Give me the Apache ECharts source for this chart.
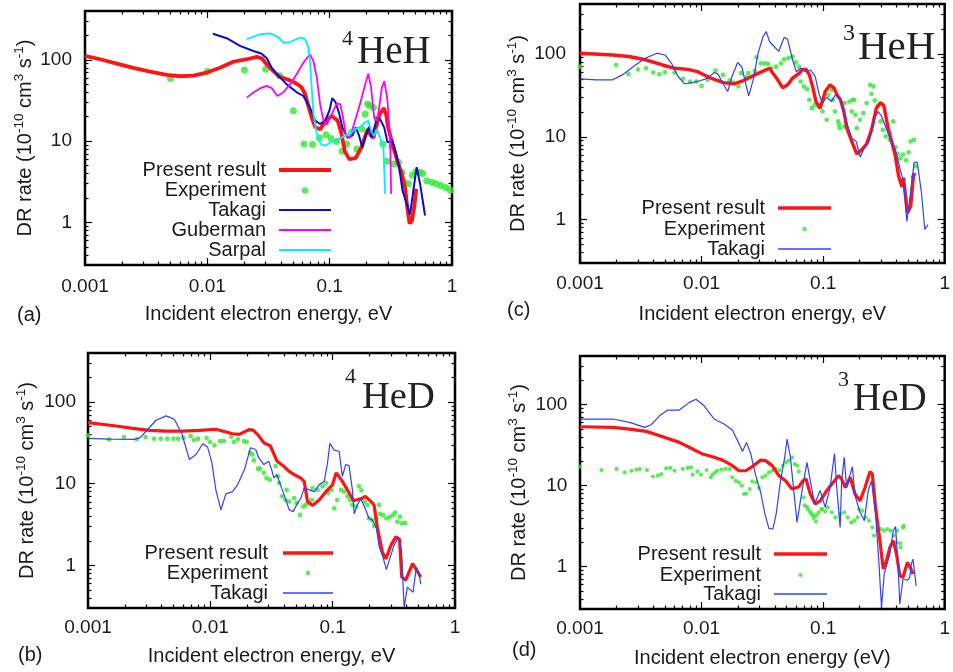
<!DOCTYPE html>
<html><head><meta charset="utf-8">
<script src="https://cdn.jsdelivr.net/npm/echarts@6/dist/echarts.min.js"></script>
<style>html,body{margin:0;padding:0;background:#fff}#c{width:953px;height:672px}</style>
</head><body><div id="c"></div><script>
const FONT = 'Liberation Sans, Arial, Helvetica, sans-serif';
const SERIF = 'Liberation Serif, Times New Roman, serif';
const RED = '#ff1414', GREEN = '#2fe82f', MAGENTA = '#ff00ff', CYAN = '#00eeff';
const BLUE_DARK = '#0c0cd0', BLUE = '#3040ff';

// tick values and labels
const xTickValues = [0.001, 0.01, 0.1, 1];
const xTickLabels = ['0.001', '0.01', '0.1', '1'];
const yTickValues = [1, 10, 100];
const yTickLabels = ['1', '10', '100'];
const xRange = [0.001, 1];
const yRange = [0.3, 400];
const legendNames = ['Present result', 'Experiment', 'Takagi', 'Guberman', 'Sarpal'];

// ---- panel (a) 4HeH ----
const heH4Present = [[0.001,112],[0.00133,102],[0.00182,90],[0.00248,80],[0.0034,72],[0.00466,65.5],[0.006,63],[0.0077,64],[0.0099,70],[0.0127,80],[0.0163,95],[0.021,102],[0.0254,109],[0.028,104],[0.0306,88],[0.0347,73],[0.039,62],[0.0474,56],[0.0538,51],[0.059,46],[0.063,38],[0.067,27],[0.071,20],[0.076,15],[0.0835,14],[0.092,17.5],[0.104,20.5],[0.116,18],[0.124,13],[0.133,7.5],[0.145,6],[0.163,6.2],[0.182,8.4],[0.196,11.7],[0.205,14.1],[0.215,12],[0.228,11],[0.243,16],[0.258,22],[0.278,25.5],[0.29,21],[0.3,15],[0.326,9.2],[0.357,5.75],[0.392,3.8],[0.414,2.6],[0.432,1.5],[0.45,0.97],[0.47,1.05],[0.49,1.5],[0.51,2.6]];
const heH4Exp = [[0.005,59],[0.01,72],[0.0201,75],[0.030,77],[0.039,64],[0.0505,23.7],[0.0617,9.25],[0.0724,9.1],[0.0825,11],[0.0935,12],[0.1026,10.8],[0.114,9.95],[0.126,7.5],[0.138,9.25],[0.151,12.8],[0.167,8.0],[0.183,14.1],[0.195,21.6],[0.204,28.6],[0.214,27.3],[0.228,26],[0.243,18.7],[0.272,9.25],[0.293,5.65],[0.322,8.6],[0.336,5.25],[0.365,5.5],[0.389,4.15],[0.406,3.13],[0.44,3.0],[0.474,3.8],[0.506,4.2],[0.542,4.15],[0.576,4.0],[0.622,3.27],[0.684,3.13],[0.741,3.0],[0.81,2.85],[0.89,2.7],[0.965,2.5]];
const heH4Takagi = [[0.0111,210],[0.0144,185],[0.0185,149],[0.0238,129],[0.0278,119],[0.0306,105],[0.0336,80],[0.0369,67],[0.0446,50],[0.0538,40],[0.061,36],[0.069,26],[0.076,17.9],[0.0835,16.3],[0.0917,17.9],[0.0995,23.7],[0.105,33.9],[0.112,30],[0.119,22.5],[0.127,14.8],[0.14,11],[0.153,11.7],[0.163,14.8],[0.174,11.7],[0.185,8.4],[0.197,11.7],[0.21,15.1],[0.22,11.1],[0.245,19.6],[0.261,18.2],[0.279,14.8],[0.297,9.7],[0.326,10.1],[0.347,7.3],[0.37,4.8],[0.394,2.47],[0.427,1.7],[0.454,1.25],[0.483,2.47],[0.514,4.8],[0.548,3.0],[0.602,1.22]];
const heH4Guberman = [[0.021,34.4],[0.0238,39.7],[0.0278,45.7],[0.0306,48],[0.0336,45],[0.0374,36],[0.0418,40],[0.0474,50],[0.0538,67],[0.061,92.7],[0.069,117],[0.0736,97],[0.0785,60.7],[0.0835,28.6],[0.089,17.9],[0.0947,16],[0.104,21.6],[0.114,29.1],[0.122,28.6],[0.128,20.5],[0.136,11.7],[0.147,11],[0.161,17.9],[0.177,28.6],[0.195,50],[0.207,68],[0.218,45.7],[0.231,19.6],[0.245,17.9],[0.267,45.7],[0.28,55],[0.296,33],[0.312,11.1],[0.318,2.25]];
const heH4Sarpal = [[0.021,180],[0.027,207],[0.0326,212],[0.038,191],[0.0418,163],[0.0474,166],[0.0555,185],[0.059,188],[0.063,180],[0.067,142],[0.069,97],[0.0713,45.7],[0.0736,21.6],[0.0785,12.3],[0.0846,9.25],[0.0917,8.8],[0.102,9.7],[0.114,10.4],[0.129,11.3],[0.147,12.3],[0.161,14.1],[0.177,15],[0.195,17],[0.207,17.9],[0.22,12.8],[0.231,11.7],[0.243,14.1],[0.258,11.1],[0.275,8.4],[0.284,2.25]];

// ---- panel (c) 3HeH ----
const heH3Present = [[0.001,102],[0.00186,97],[0.00253,93],[0.00345,85],[0.0047,74],[0.006,67],[0.0077,65],[0.0093,61],[0.0119,51],[0.0152,45],[0.0184,43.5],[0.0221,47.7],[0.0283,57],[0.0362,67],[0.0385,59],[0.0423,48.7],[0.0465,39],[0.051,42.4],[0.056,51],[0.0633,58],[0.068,65],[0.0725,65],[0.077,55.8],[0.082,40],[0.0873,26.6],[0.0946,22.1],[0.104,35.2],[0.114,42.4],[0.123,38.6],[0.13,32],[0.139,27.9],[0.148,20.2],[0.157,12.7],[0.172,8.8],[0.189,6.2],[0.208,7.0],[0.228,8.2],[0.25,12.1],[0.274,22.1],[0.297,26],[0.316,23.6],[0.34,13.3],[0.369,8.4],[0.393,5.8],[0.418,3.33],[0.445,2.5],[0.458,3.2],[0.494,1.2],[0.525,1.45],[0.552,3.33],[0.569,3.66]];
const heH3Exp = [[0.001,70],[0.00198,73.6],[0.0025,57.4],[0.003,65],[0.00349,67],[0.004,59.6],[0.0045,57],[0.005,60],[0.006,59.6],[0.00703,50],[0.00805,46.3],[0.00906,46.3],[0.01,41],[0.0112,48.7],[0.013,63],[0.015,55.8],[0.017,47.8],[0.0181,45],[0.0201,41],[0.0211,58.5],[0.0235,52.4],[0.0243,58.5],[0.0274,62.4],[0.0283,91],[0.0307,77],[0.033,77],[0.0352,75.8],[0.0374,67],[0.041,70],[0.045,77],[0.0478,86],[0.0519,88.7],[0.056,92.7],[0.0595,78.7],[0.0633,70],[0.0653,46.3],[0.0694,40.4],[0.074,37.5],[0.077,27.9],[0.081,22.1],[0.085,24.3],[0.0917,23.2],[0.0988,20.2],[0.107,16],[0.11,32],[0.117,36.8],[0.12,27.9],[0.125,20.2],[0.133,15.3],[0.135,14],[0.137,12.7],[0.15,13.3],[0.15,25.5],[0.165,26.6],[0.175,27.9],[0.172,20.2],[0.18,27.9],[0.184,18.4],[0.189,12.7],[0.201,16],[0.214,19.3],[0.228,25.5],[0.243,42.4],[0.259,40.4],[0.25,33],[0.266,27.4],[0.283,23.6],[0.297,15.3],[0.31,12.1],[0.327,10.1],[0.353,9.2],[0.376,15.3],[0.393,7.5],[0.41,6.2],[0.431,5.5],[0.453,6.1],[0.482,5.2],[0.504,6.5],[0.525,8.8],[0.56,9.2],[0.546,3.27],[0.577,4.4]];
const heH3Takagi = [[0.001,50],[0.00136,48.7],[0.00186,48.7],[0.00223,55.8],[0.00286,73.6],[0.00345,88.7],[0.00428,102],[0.005,97],[0.00566,77],[0.0064,53.4],[0.00725,43.6],[0.00846,45],[0.00987,47.8],[0.0112,51],[0.0127,59.6],[0.0136,57.4],[0.0152,42.4],[0.0164,35.2],[0.0178,53.4],[0.0198,78.7],[0.0214,70],[0.0231,43.6],[0.0244,31.2],[0.0266,48.7],[0.0292,102],[0.032,161],[0.034,186],[0.0362,141],[0.0397,122],[0.0431,107],[0.0478,159],[0.051,150],[0.056,85],[0.0603,61],[0.0653,67],[0.0716,61],[0.0786,64],[0.081,65],[0.086,53.4],[0.0929,32],[0.0988,25.5],[0.107,30],[0.117,26.6],[0.126,32],[0.137,30],[0.148,19.6],[0.158,14],[0.172,9.6],[0.187,8.8],[0.202,5.7],[0.218,7.3],[0.239,8.8],[0.262,16.3],[0.283,20.2],[0.301,17.9],[0.327,13.1],[0.358,9.2],[0.393,7.0],[0.431,4.0],[0.458,2.9],[0.488,0.955],[0.519,1.9],[0.56,4.9],[0.595,4.9],[0.644,2.1],[0.686,0.76],[0.729,0.87]];

// ---- panel (b) 4HeD ----
const heD4Present = [[0.001,56],[0.0017,51],[0.00232,47.7],[0.00318,45],[0.00435,44.2],[0.0059,44.2],[0.00813,45],[0.0111,46.5],[0.0152,41],[0.0172,40.3],[0.0207,46],[0.0224,45.5],[0.0243,40.3],[0.0274,31.8],[0.031,29],[0.035,19],[0.0398,16.4],[0.0441,14.2],[0.05,12.6],[0.055,11.7],[0.0585,10.7],[0.0623,6.05],[0.0684,5.4],[0.0776,6.3],[0.088,8.0],[0.0996,9.7],[0.107,13.6],[0.12,10.7],[0.132,8.4],[0.148,6.2],[0.16,6.4],[0.175,6.65],[0.185,7.0],[0.2,6.3],[0.218,5.5],[0.232,2.9],[0.255,1.45],[0.272,1.2],[0.3,1.77],[0.328,2.24],[0.352,2.1],[0.367,0.72],[0.395,0.66],[0.45,1.05],[0.48,0.9],[0.525,0.72]];
const heD4Exp = [[0.001,39.2],[0.00149,34.9],[0.00197,37.3],[0.0025,34.9],[0.00296,37.3],[0.00347,35.6],[0.00393,35.6],[0.00446,35.6],[0.00499,35.6],[0.00545,35.6],[0.00602,36.6],[0.0069,38.4],[0.00736,34.3],[0.00794,35.6],[0.00933,36.3],[0.00995,32.4],[0.0108,29.5],[0.012,33.3],[0.0129,33.3],[0.0148,37.7],[0.0156,32.4],[0.0168,34.9],[0.0188,33.3],[0.0198,32.4],[0.0211,23.9],[0.022,22.8],[0.0227,19.4],[0.0245,15.3],[0.0255,15.3],[0.0274,13.6],[0.0288,11.7],[0.0307,11.2],[0.0341,16.4],[0.0357,12.3],[0.0366,10.2],[0.0387,7.0],[0.0412,6.3],[0.042,8.4],[0.0441,6.05],[0.0485,6.65],[0.0507,5.8],[0.054,4.14],[0.0574,5.25],[0.0604,5.5],[0.0643,5.8],[0.0676,6.3],[0.0684,8.85],[0.0751,8.4],[0.0826,9.3],[0.088,10.2],[0.0918,7.7],[0.0977,8.4],[0.103,5.0],[0.109,6.3],[0.117,8.4],[0.124,8.0],[0.132,7.0],[0.139,6.3],[0.145,5.5],[0.156,5.25],[0.164,9.3],[0.172,8.3],[0.183,6.05],[0.192,5.5],[0.198,3.77],[0.211,3.55],[0.218,3.03],[0.228,3.77],[0.24,5.5],[0.243,4.27],[0.258,4.14],[0.275,3.77],[0.293,3.9],[0.312,4.14],[0.324,4.43],[0.338,3.43],[0.354,3.94],[0.367,3.27],[0.391,3.3]];
const heD4Takagi = [[0.001,36],[0.0015,35.3],[0.0024,34.9],[0.00267,36.7],[0.003,44.3],[0.0036,60],[0.00435,67.8],[0.00508,61.7],[0.00587,40.3],[0.00674,19.8],[0.00764,22.8],[0.00866,30.9],[0.0095,28.1],[0.0103,18],[0.0111,8.4],[0.0122,4.77],[0.0134,7.5],[0.0152,8.0],[0.0167,9.7],[0.019,14.9],[0.0213,27.6],[0.0235,26.3],[0.0249,20.7],[0.0274,17.2],[0.030,18.9],[0.032,14.2],[0.033,11.8],[0.035,12.9],[0.0387,8.4],[0.0415,6.3],[0.0441,4.8],[0.0476,4.55],[0.0516,5.8],[0.055,6.65],[0.0585,8.9],[0.0643,8.4],[0.0706,8.0],[0.0776,9.7],[0.0853,10.7],[0.0908,18],[0.0949,31.2],[0.103,25.8],[0.113,25],[0.12,12.3],[0.128,17.2],[0.136,16.7],[0.145,8.4],[0.15,4.27],[0.159,5.5],[0.17,6.5],[0.184,5.0],[0.198,3.77],[0.211,3.6],[0.228,2.84],[0.24,1.68],[0.255,1.33],[0.275,0.885],[0.293,1.21],[0.318,1.77],[0.344,2.2],[0.365,1.53],[0.384,0.305],[0.408,0.54],[0.454,0.468],[0.483,0.95],[0.508,0.79],[0.525,0.59]];

// ---- panel (d) 3HeD ----
const heD3Present = [[0.001,53.5],[0.00187,52.5],[0.00256,50],[0.00351,46.9],[0.0048,40.3],[0.00657,34.3],[0.00844,28.4],[0.0102,24.6],[0.0123,22.8],[0.0149,20.7],[0.0179,17.7],[0.0203,15.3],[0.0231,15.3],[0.0261,17.2],[0.0306,20.7],[0.0336,20.4],[0.0381,17.7],[0.0432,13.3],[0.049,11.5],[0.0555,9.1],[0.063,9.7],[0.0679,11.5],[0.0723,12.1],[0.0784,7.9],[0.0861,5.95],[0.0946,6.5],[0.107,8.7],[0.118,10.5],[0.134,13.3],[0.142,12.1],[0.152,9.5],[0.167,12.7],[0.183,7.9],[0.201,6.5],[0.221,9.5],[0.243,15],[0.254,13.9],[0.27,5.4],[0.293,2.1],[0.312,0.94],[0.332,1.19],[0.354,1.73],[0.377,2.1],[0.401,1.44],[0.427,0.775],[0.454,0.74],[0.493,1.13],[0.521,0.98],[0.548,0.81]];
const heD3Exp = [[0.001,17.2],[0.0015,15.6],[0.002,16.1],[0.00233,14.6],[0.00265,15.3],[0.00291,15.8],[0.0031,16.1],[0.00356,15.6],[0.00398,13.0],[0.00437,13.3],[0.00466,13.9],[0.00512,16.4],[0.00552,16.6],[0.00598,15.3],[0.007,16.1],[0.00769,16.6],[0.00818,16.8],[0.00844,13.7],[0.00927,15.0],[0.00988,13.7],[0.011,15.6],[0.0119,12.7],[0.0123,13.7],[0.0129,14.6],[0.0135,15.3],[0.0146,15.8],[0.0158,16.1],[0.0171,16.1],[0.0179,12.7],[0.0191,11.5],[0.0203,11],[0.0214,10],[0.0223,7.9],[0.0233,8.0],[0.0249,9.1],[0.0261,11.3],[0.0282,11],[0.0296,9.4],[0.0316,12.7],[0.0336,13.3],[0.0358,14.6],[0.0381,15.3],[0.0406,16.1],[0.0438,15.6],[0.0466,17.7],[0.0496,19.4],[0.0521,20.4],[0.0555,22.4],[0.0584,18.5],[0.0614,17.7],[0.063,15],[0.069,7.2],[0.0705,5.7],[0.0736,5.5],[0.075,5.15],[0.078,4.8],[0.08,4.48],[0.083,4.3],[0.0836,4.0],[0.0872,3.63],[0.088,4.3],[0.0917,4.68],[0.0976,5.15],[0.097,5.15],[0.104,4.82],[0.109,5.4],[0.118,4.7],[0.126,4.07],[0.138,4.48],[0.149,4.68],[0.159,4.07],[0.17,3.52],[0.181,3.7],[0.192,4.07],[0.197,5.15],[0.21,4.9],[0.223,4.07],[0.238,3.7],[0.254,3.05],[0.262,2.42],[0.279,2.78],[0.297,2.92],[0.316,2.78],[0.337,2.92],[0.358,2.78],[0.381,2.42],[0.401,2.0],[0.406,2.78],[0.431,1.94],[0.434,1.73],[0.454,3.05],[0.46,3.2]];
const heD3Takagi = [[0.001,66.6],[0.00187,66.6],[0.00256,60.5],[0.0034,52.5],[0.00385,56.6],[0.00451,73],[0.00527,86],[0.00657,86],[0.00793,107],[0.009,117],[0.0105,97],[0.0127,66.6],[0.0153,57.8],[0.0179,48.8],[0.0201,34.3],[0.0217,26.5],[0.0234,34.3],[0.0254,24.6],[0.0279,13.3],[0.0306,8.3],[0.0332,4.48],[0.0358,2.97],[0.0386,2.92],[0.0411,4.48],[0.0446,11.5],[0.0483,22.4],[0.0505,37.7],[0.0538,22.4],[0.0573,8.7],[0.061,3.52],[0.065,6.5],[0.0692,11.5],[0.0736,19.4],[0.0784,11.5],[0.085,5.95],[0.0946,8.7],[0.104,5.4],[0.114,9.5],[0.124,25],[0.129,10],[0.138,3.05],[0.142,11.5],[0.149,22.4],[0.156,9.5],[0.167,13.9],[0.174,17.2],[0.183,7.5],[0.201,4.7],[0.218,3.7],[0.235,8.7],[0.25,11.5],[0.27,4.48],[0.288,1.08],[0.302,0.315],[0.318,0.81],[0.354,1.44],[0.377,2.78],[0.394,3.12],[0.413,1.08],[0.427,0.347],[0.454,0.705],[0.493,0.68],[0.515,0.73],[0.531,1.08],[0.548,1.24],[0.583,0.58]];

const L = Math.log10;
const logPts = a => a.map(p => [L(p[0]), L(p[1])]);
function minorTicks(lo, hi) {
  const out = [];
  for (let d = -4; d <= 3; d++) for (let k = 2; k <= 9; k++) {
    const v = k * Math.pow(10, d);
    if (v > lo * 1.001 && v < hi * 0.999) out.push(L(v));
  }
  return out;
}
const xMajor = xTickValues.map(L), xMinor = minorTicks(xRange[0], xRange[1]);
const yMajor = yTickValues.map(L), yMinor = minorTicks(yRange[0], yRange[1]);
const labelOf = (vals, labels) => v => { const i = vals.findIndex(m => Math.abs(m - v) < 1e-6); return i >= 0 ? labels[i] : ''; };

const panels = [
  { tag: '(a)', tagX: 17, tagY: 315, left: 85, top: 11, width: 367, height: 254, xName: 'Incident electron energy, eV',
    xNameGap: 39.5, yNameGap: 47, xLM: 12.5, yLM: 13,
    iso: { sup: '4', supX: 342, supY: 39, supSize: 22, main: 'HeH', mainX: 357, mainY: 53, mainSize: 39 },
    dot: 7, redW: 3.8, takW: 2, takC: BLUE_DARK,
    series: [heH4Present, heH4Exp, heH4Takagi, heH4Guberman, heH4Sarpal],
    leg: { right: 331, w: 52, rows: [170, 190.5, 210, 230, 250], dot: 6.5, redH: 4, takH: 2.2, gap: 8 } },
  { tag: '(c)', tagX: 507, tagY: 310, left: 580, top: 4, width: 372, height: 259, xName: 'Incident electron energy, eV',
    xNameGap: 41.5, yNameGap: 49, xLM: 11.3, yLM: 14,
    iso: { sup: '3', supX: 843, supY: 33.5, supSize: 24, main: 'HeH', mainX: 858, mainY: 48, mainSize: 41 },
    dot: 4.8, redW: 3.4, takW: 1.2, takC: BLUE,
    series: [heH3Present, heH3Exp, heH3Takagi],
    leg: { right: 831, w: 53, rows: [208, 229, 249], dot: 4.5, redH: 3.5, takH: 1.4, gap: 8 } },
  { tag: '(b)', tagX: 18, tagY: 655, left: 88, top: 353, width: 367, height: 255, xName: 'Incident electron energy, eV',
    xNameGap: 38.5, yNameGap: 48, xLM: 10.3, yLM: 12,
    iso: { sup: '4', supX: 345, supY: 377.5, supSize: 22, main: 'HeD', mainX: 362, mainY: 397.5, mainSize: 38.5 },
    dot: 4.8, redW: 3.2, takW: 1.2, takC: BLUE,
    series: [heD4Present, heD4Exp, heD4Takagi],
    leg: { right: 333, w: 50, rows: [553, 573, 593], dot: 4.5, redH: 3.5, takH: 1.4, gap: 10 } },
  { tag: '(d)', tagX: 512, tagY: 650, left: 580, top: 356, width: 367, height: 253, xName: 'Incident electron energy (eV)',
    xNameGap: 39.3, yNameGap: 47.5, xLM: 10.2, yLM: 12.7,
    iso: { sup: '3', supX: 838, supY: 380, supSize: 22, main: 'HeD', mainX: 853, mainY: 400, mainSize: 39 },
    dot: 4.2, redW: 3.2, takW: 1.2, takC: BLUE,
    series: [heD3Present, heD3Exp, heD3Takagi],
    leg: { right: 827, w: 53, rows: [554, 575, 594], dot: 4.2, redH: 3.5, takH: 1.4, gap: 8 } }
];

const grid = [], xAxis = [], yAxis = [], series = [], legend = [], graphic = [];
const tickStyle = { color: '#000', width: 1.2 };
panels.forEach((p, g) => {
  grid.push({ left: p.left, top: p.top, width: p.width, height: p.height, show: true, borderColor: '#000', borderWidth: 2.5, backgroundColor: 'rgba(0,0,0,0)' });
  const common = { gridIndex: g, type: 'value', splitLine: { show: false }, axisLine: { show: false, onZero: false }, silent: true };
  const xr = { min: L(xRange[0]), max: L(xRange[1]) }, yr = { min: L(yRange[0]), max: L(yRange[1]) };
  const noLab = { show: false };
  // x axes: bottom major (labels), bottom minor, top major, top minor
  xAxis.push(Object.assign({}, common, xr, { position: 'bottom',
    axisTick: { show: true, inside: true, length: 7, customValues: xMajor, lineStyle: tickStyle },
    axisLabel: { show: true, customValues: xMajor, margin: p.xLM, fontSize: 19, lineHeight: 19, color: '#1a1a1a', fontFamily: FONT, formatter: labelOf(xMajor, xTickLabels) },
    name: p.xName, nameLocation: 'middle', nameGap: p.xNameGap,
    nameTextStyle: { fontSize: 20, lineHeight: 20, color: '#1a1a1a', fontFamily: FONT } }));
  xAxis.push(Object.assign({}, common, xr, { position: 'bottom', axisTick: { show: true, inside: true, length: 3.5, customValues: xMinor, lineStyle: tickStyle }, axisLabel: Object.assign({ customValues: xMinor }, noLab) }));
  xAxis.push(Object.assign({}, common, xr, { position: 'top', axisTick: { show: true, inside: true, length: 7, customValues: xMajor, lineStyle: tickStyle }, axisLabel: Object.assign({ customValues: xMajor }, noLab) }));
  xAxis.push(Object.assign({}, common, xr, { position: 'top', axisTick: { show: true, inside: true, length: 3.5, customValues: xMinor, lineStyle: tickStyle }, axisLabel: Object.assign({ customValues: xMinor }, noLab) }));
  // y axes
  yAxis.push(Object.assign({}, common, yr, { position: 'left',
    axisTick: { show: true, inside: true, length: 7, customValues: yMajor, lineStyle: tickStyle },
    axisLabel: { show: true, customValues: yMajor, margin: p.yLM, fontSize: 19, color: '#1a1a1a', fontFamily: FONT, formatter: labelOf(yMajor, yTickLabels) },
    name: '{t|DR rate (10}{s|-10}{t| cm}{s|3}{t| s}{s|-1}{t|)}', nameLocation: 'middle', nameGap: p.yNameGap, nameRotate: 90,
    nameTextStyle: { fontSize: 20, color: '#1a1a1a', fontFamily: FONT,
      rich: { t: { fontSize: 20, lineHeight: 26, fontFamily: FONT, color: '#1a1a1a', verticalAlign: 'middle' },
              s: { fontSize: 13.5, lineHeight: 14, fontFamily: FONT, color: '#1a1a1a', verticalAlign: 'top' } } } }));
  yAxis.push(Object.assign({}, common, yr, { position: 'left', axisTick: { show: true, inside: true, length: 3.5, customValues: yMinor, lineStyle: tickStyle }, axisLabel: Object.assign({ customValues: yMinor }, noLab) }));
  yAxis.push(Object.assign({}, common, yr, { position: 'right', axisTick: { show: true, inside: true, length: 7, customValues: yMajor, lineStyle: tickStyle }, axisLabel: Object.assign({ customValues: yMajor }, noLab) }));
  yAxis.push(Object.assign({}, common, yr, { position: 'right', axisTick: { show: true, inside: true, length: 3.5, customValues: yMinor, lineStyle: tickStyle }, axisLabel: Object.assign({ customValues: yMinor }, noLab) }));

  const ax = { xAxisIndex: 4 * g, yAxisIndex: 4 * g, silent: true, animation: false };
  const styles = [
    { type: 'line', lineStyle: { color: RED, width: p.redW }, itemStyle: { color: RED } },
    { type: 'scatter', symbol: 'circle', symbolSize: p.dot, itemStyle: { color: GREEN } },
    { type: 'line', lineStyle: { color: p.takC, width: p.takW }, itemStyle: { color: p.takC } },
    { type: 'line', lineStyle: { color: MAGENTA, width: 1.8 }, itemStyle: { color: MAGENTA } },
    { type: 'line', lineStyle: { color: CYAN, width: 1.8 }, itemStyle: { color: CYAN } }
  ];
  p.series.forEach((d, i) => {
    const s = Object.assign({ name: legendNames[i], data: logPts(d) }, ax, styles[i]);
    if (s.type === 'line') { s.showSymbol = false; s.symbol = 'none'; }
    series.push(s);
  });

  // legends: one per entry so each icon can have its own size
  const lg = p.leg;
  const legColors = [RED, GREEN, p.takC, MAGENTA, CYAN];
  const iconLeft = lg.right - lg.w;
  const textRight = iconLeft - 5 - lg.gap;
  p.series.forEach((d, i) => {
    const isDot = i === 1;
    const h = isDot ? lg.dot : (i === 0 ? lg.redH : (i === 2 ? lg.takH : 2.2));
    let right = 953 - lg.right, w = lg.w, pad = lg.gap;
    if (isDot) {
      const cx = lg.right - lg.w / 2;
      right = 953 - (cx + lg.dot / 2);
      w = lg.dot;
      pad = (cx - lg.dot / 2) - 5 - textRight;
    }
    legend.push({
      show: true, orient: 'horizontal', align: 'right', padding: 0, itemGap: 0,
      right: right, top: lg.rows[i] - 10,
      itemWidth: w, itemHeight: h, selectedMode: false,
      data: [{ name: legendNames[i], icon: isDot ? 'circle' : 'rect', itemStyle: { color: legColors[i], borderWidth: 0 } }],
      textStyle: { fontSize: 20, lineHeight: 20, color: '#1a1a1a', fontFamily: FONT, padding: [0, pad, 0, 0] }
    });
  });

  graphic.push({ type: 'text', x: p.tagX, y: p.tagY, silent: true,
    style: { text: p.tag, fontSize: 20, fontFamily: FONT, fill: '#1a1a1a', align: 'left', verticalAlign: 'middle' } });
  graphic.push({ type: 'text', x: p.iso.supX, y: p.iso.supY, silent: true,
    style: { text: p.iso.sup, fontSize: p.iso.supSize, fontFamily: SERIF, fill: '#222', align: 'left', verticalAlign: 'middle' } });
  graphic.push({ type: 'text', x: p.iso.mainX, y: p.iso.mainY, silent: true,
    style: { text: p.iso.main, fontSize: p.iso.mainSize, fontFamily: SERIF, fill: '#222', align: 'left', verticalAlign: 'middle' } });
});

const chart = echarts.init(document.getElementById('c'), null, { renderer: 'canvas', width: 953, height: 672 });
chart.setOption({
  backgroundColor: '#ffffff',
  animation: false,
  textStyle: { fontFamily: FONT },
  grid, xAxis, yAxis, series, legend, graphic
});
</script></body></html>
